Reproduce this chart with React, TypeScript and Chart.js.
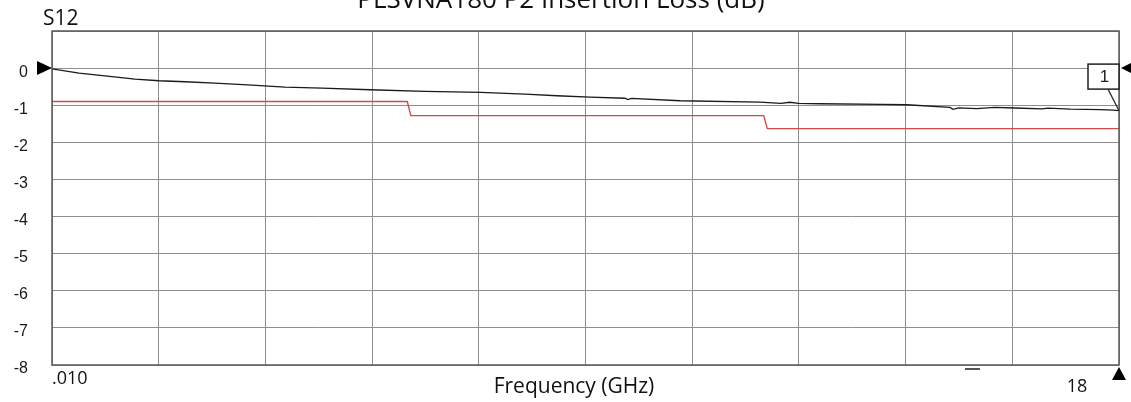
import React, { useEffect, useRef } from "react";
import { Chart, registerables } from "chart.js";

Chart.register(...registerables);

const titleText = "PLSVNA180 P2 Insertion Loss (dB)";
const traceName = "S12";
const xAxisTitle = "Frequency (GHz)";
const xStartLabel = ".010";
const xEndLabel = "18";
const markerLabel = "1";

const freqMin = 0.01;
const freqMax = 18;
const yMin = -8;
const yMax = 1;
const yTickValues = [0, -1, -2, -3, -4, -5, -6, -7, -8];

const s12Freq = [
  0.01, 0.465, 0.904, 1.409, 1.814, 2.252, 2.758, 3.382, 3.938, 4.562, 5.371, 6.299,
  7.243, 7.985, 8.524, 9.081, 9.67, 9.72, 9.78, 10.598, 11.947, 12.3, 12.45, 12.6,
  12.958, 14.0, 14.425, 15.15, 15.2, 15.3, 15.6, 15.9, 16.246, 16.7, 16.8, 17.18,
  17.68, 17.9, 18.0,
];
const s12Db = [
  -0.02, -0.134, -0.207, -0.296, -0.341, -0.368, -0.403, -0.457, -0.511, -0.538, -0.583, -0.629,
  -0.656, -0.699, -0.745, -0.78, -0.812, -0.85, -0.815, -0.879, -0.919, -0.95, -0.92, -0.95,
  -0.96, -0.975, -0.987, -1.059, -1.11, -1.07, -1.09, -1.06, -1.075, -1.1, -1.08, -1.107,
  -1.121, -1.13, -1.148,
];

const limitFreq = [0.01, 6.0, 6.06, 12.01, 12.07, 18.0];
const limitDb = [-0.9, -0.9, -1.28, -1.28, -1.63, -1.63];

const overlayPlugin = {
  id: "overlay",
  afterDraw(chart: any) {
    const ctx = chart.ctx;
    const area = chart.chartArea;
    const xs = chart.scales.x;
    const ys = chart.scales.y;
    ctx.save();

    // frame
    ctx.strokeStyle = "#5a5a5a";
    ctx.lineWidth = 1.5;
    ctx.strokeRect(area.left, area.top, area.right - area.left, area.bottom - area.top);

    // title (cropped at top)
    ctx.fillStyle = "#111";
    ctx.font = "26px 'Open Sans'";
    ctx.textAlign = "center";
    ctx.textBaseline = "alphabetic";
    ctx.fillText(titleText, 561, 8);

    // trace name
    ctx.textAlign = "left";
    ctx.font = "21px 'Open Sans'";
    ctx.fillText(traceName, 43, 25);

    // y tick labels
    ctx.font = "16px 'Liberation Sans'";
    ctx.fillStyle = "#1a1a1a";
    ctx.textAlign = "right";
    ctx.textBaseline = "middle";
    yTickValues.forEach((v) => {
      ctx.fillText(String(v), 28, ys.getPixelForValue(v) + 4);
    });

    // reference triangle left
    const y0 = ys.getPixelForValue(0);
    ctx.fillStyle = "#000";
    ctx.beginPath();
    ctx.moveTo(area.left, y0);
    ctx.lineTo(area.left - 15, y0 - 7);
    ctx.lineTo(area.left - 15, y0 + 7);
    ctx.closePath();
    ctx.fill();

    // reference triangle right
    ctx.beginPath();
    ctx.moveTo(area.right + 2, y0);
    ctx.lineTo(area.right + 12, y0 - 5);
    ctx.lineTo(area.right + 12, y0 + 5);
    ctx.closePath();
    ctx.fill();

    // bottom-right up triangle
    ctx.beginPath();
    ctx.moveTo(area.right, area.bottom + 2);
    ctx.lineTo(area.right - 7, area.bottom + 15);
    ctx.lineTo(area.right + 7, area.bottom + 15);
    ctx.closePath();
    ctx.fill();

    // small dash below axis
    ctx.fillStyle = "#555";
    ctx.fillRect(965, area.bottom + 3, 15, 2);

    // x labels
    ctx.fillStyle = "#111";
    ctx.font = "18px 'Open Sans'";
    ctx.textBaseline = "alphabetic";
    ctx.textAlign = "left";
    ctx.fillText(xStartLabel, area.left, 384);
    ctx.textAlign = "center";
    ctx.fillText(xEndLabel, 1077, 392);
    ctx.font = "21px 'Open Sans'";
    ctx.fillText(xAxisTitle, 574, 393);

    // marker 1
    const lastX = xs.getPixelForValue(s12Freq[s12Freq.length - 1]);
    const lastY = ys.getPixelForValue(s12Db[s12Db.length - 1]);
    const bx = lastX - 31;
    const by = y0 - 4;
    const bw = 31;
    const bh = 25;
    ctx.strokeStyle = "#222";
    ctx.lineWidth = 1.2;
    ctx.beginPath();
    ctx.moveTo(bx + 20, by + bh);
    ctx.lineTo(lastX, lastY);
    ctx.stroke();
    ctx.fillStyle = "#fff";
    ctx.fillRect(bx, by, bw, bh);
    ctx.lineWidth = 1.5;
    ctx.strokeRect(bx, by, bw, bh);
    ctx.fillStyle = "#222";
    ctx.font = "17px 'Liberation Sans'";
    ctx.textAlign = "center";
    ctx.textBaseline = "middle";
    ctx.fillText(markerLabel, bx + bw / 2 + 1, by + bh / 2 + 1);

    ctx.restore();
  },
};

export default function App() {
  const ref = useRef<HTMLCanvasElement | null>(null);

  useEffect(() => {
    if (!ref.current) return;
    const chart = new Chart(ref.current, {
      type: "line",
      data: {
        datasets: [
          {
            label: "Limit",
            data: limitFreq.map((f, i) => ({ x: f, y: limitDb[i] })),
            borderColor: "#d24a4a",
            borderWidth: 1.4,
            pointRadius: 0,
            tension: 0,
          },
          {
            label: traceName,
            data: s12Freq.map((f, i) => ({ x: f, y: s12Db[i] })),
            borderColor: "#1a1a1a",
            borderWidth: 1.3,
            pointRadius: 0,
            tension: 0,
          },
        ],
      },
      options: {
        animation: false,
        responsive: false,
        layout: { padding: { left: 52, right: 12, top: 31, bottom: 37 } },
        plugins: { legend: { display: false }, tooltip: { enabled: false }, title: { display: false } },
        scales: {
          x: {
            type: "linear",
            min: freqMin,
            max: freqMax,
            afterBuildTicks: (scale: any) => {
              scale.ticks = Array.from({ length: 11 }, (_, i) => ({
                value: freqMin + (i * (freqMax - freqMin)) / 10,
              }));
            },
            ticks: { display: false },
            grid: { color: "#8e8e8e", lineWidth: 1, drawTicks: false },
            border: { display: false },
          },
          y: {
            type: "linear",
            min: yMin,
            max: yMax,
            ticks: { display: false, stepSize: 1 },
            grid: { color: "#8e8e8e", lineWidth: 1, drawTicks: false },
            border: { display: false },
          },
        },
      },
      plugins: [overlayPlugin],
    });
    return () => chart.destroy();
  }, []);

  return (
    <div style={{ position: "absolute", left: 0, top: 0, width: 1131, height: 402, background: "#fff" }}>
      <canvas ref={ref} width={1131} height={402} style={{ display: "block" }} />
    </div>
  );
}
